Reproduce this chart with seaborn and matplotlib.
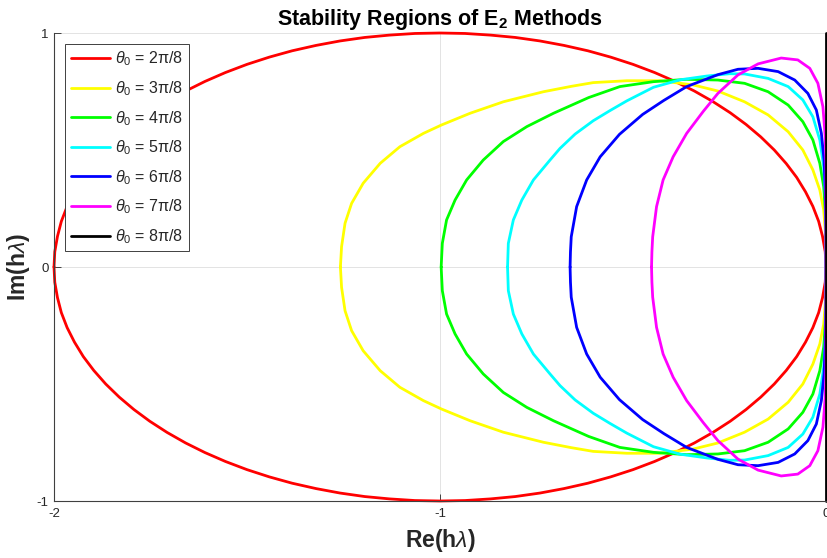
import matplotlib
matplotlib.use("Agg")
import matplotlib.pyplot as plt
import seaborn as sns
import pandas as pd

# ---------------- data ----------------
labels = [r"$\theta_0$ = 2$\mathrm{\pi}$/8", r"$\theta_0$ = 3$\mathrm{\pi}$/8",
          r"$\theta_0$ = 4$\mathrm{\pi}$/8", r"$\theta_0$ = 5$\mathrm{\pi}$/8",
          r"$\theta_0$ = 6$\mathrm{\pi}$/8", r"$\theta_0$ = 7$\mathrm{\pi}$/8",
          r"$\theta_0$ = 8$\mathrm{\pi}$/8"]
colors = ["#ff0000", "#ffff00", "#00ff00", "#00ffff", "#0000ff", "#ff00ff", "#000000"]

# theta0 = 2pi/8
red_x_up = [-2.0, -1.998, -1.991, -1.981, -1.966, -1.947, -1.924, -1.897, -1.866, -1.831,
            -1.793, -1.752, -1.707, -1.659, -1.609, -1.556, -1.5, -1.442, -1.383, -1.321,
            -1.259, -1.195, -1.131, -1.065, -1.0, -0.935, -0.869, -0.805, -0.741, -0.679,
            -0.617, -0.558, -0.5, -0.444, -0.391, -0.341, -0.293, -0.248, -0.207, -0.169,
            -0.134, -0.103, -0.076, -0.053, -0.034, -0.019, -0.009, -0.002, 0.0]
red_y_up = [0.0, 0.065, 0.131, 0.195, 0.259, 0.321, 0.383, 0.442, 0.5, 0.556,
            0.609, 0.659, 0.707, 0.752, 0.793, 0.831, 0.866, 0.897, 0.924, 0.947,
            0.966, 0.981, 0.991, 0.998, 1.0, 0.998, 0.991, 0.981, 0.966, 0.947,
            0.924, 0.897, 0.866, 0.831, 0.793, 0.752, 0.707, 0.659, 0.609, 0.556,
            0.5, 0.442, 0.383, 0.321, 0.259, 0.195, 0.131, 0.065, 0.0]
red_x_lo = [-0.002, -0.009, -0.019, -0.034, -0.053, -0.076, -0.103, -0.134, -0.169, -0.207,
            -0.248, -0.293, -0.341, -0.391, -0.444, -0.5, -0.558, -0.617, -0.679, -0.741,
            -0.805, -0.869, -0.935, -1.0, -1.065, -1.131, -1.195, -1.259, -1.321, -1.383,
            -1.442, -1.5, -1.556, -1.609, -1.659, -1.707, -1.752, -1.793, -1.831, -1.866,
            -1.897, -1.924, -1.947, -1.966, -1.981, -1.991, -1.998, -2.0]
red_y_lo = [-0.065, -0.131, -0.195, -0.259, -0.321, -0.383, -0.442, -0.5, -0.556, -0.609,
            -0.659, -0.707, -0.752, -0.793, -0.831, -0.866, -0.897, -0.924, -0.947, -0.966,
            -0.981, -0.991, -0.998, -1.0, -0.998, -0.991, -0.981, -0.966, -0.947, -0.924,
            -0.897, -0.866, -0.831, -0.793, -0.752, -0.707, -0.659, -0.609, -0.556, -0.5,
            -0.442, -0.383, -0.321, -0.259, -0.195, -0.131, -0.065, 0.0]

# theta0 = 3pi/8
yel_x_up = [-1.258, -1.255, -1.246, -1.229, -1.199, -1.155, -1.104, -1.043, -0.996, -0.922,
            -0.836, -0.732, -0.660, -0.603, -0.516, -0.430, -0.344, -0.280, -0.211, -0.150,
            -0.098, -0.060, -0.034, -0.016, -0.006, -0.002, 0.0, 0.0]
yel_y_up = [0.0, 0.087, 0.187, 0.272, 0.358, 0.443, 0.514, 0.571, 0.607, 0.657,
            0.706, 0.749, 0.772, 0.788, 0.796, 0.796, 0.778, 0.752, 0.706, 0.650,
            0.578, 0.5, 0.415, 0.329, 0.244, 0.158, 0.07, 0.0]
yel_x_lo = [0.0, -0.002, -0.006, -0.016, -0.034, -0.060, -0.098, -0.150, -0.211, -0.280,
            -0.344, -0.430, -0.516, -0.603, -0.660, -0.732, -0.836, -0.922, -0.996, -1.043,
            -1.104, -1.155, -1.199, -1.229, -1.246, -1.255, -1.258]
yel_y_lo = [-0.07, -0.158, -0.244, -0.329, -0.415, -0.5, -0.578, -0.650, -0.706, -0.752,
            -0.778, -0.796, -0.796, -0.788, -0.772, -0.749, -0.706, -0.657, -0.607, -0.571,
            -0.514, -0.443, -0.358, -0.272, -0.187, -0.087, 0.0]

# theta0 = 4pi/8
grn_x_up = [-0.997, -0.994, -0.983, -0.961, -0.931, -0.888, -0.836, -0.775, -0.706, -0.615,
            -0.534, -0.447, -0.361, -0.280, -0.211, -0.150, -0.098, -0.060, -0.034, -0.016,
            -0.006, -0.002, 0.0, 0.0]
grn_y_up = [0.0, 0.101, 0.201, 0.286, 0.372, 0.457, 0.536, 0.6, 0.657, 0.724,
            0.771, 0.792, 0.802, 0.799, 0.785, 0.749, 0.692, 0.621, 0.543, 0.443,
            0.343, 0.244, 0.12, 0.0]
grn_x_lo = [0.0, -0.002, -0.006, -0.016, -0.034, -0.060, -0.098, -0.150, -0.211, -0.280,
            -0.361, -0.447, -0.534, -0.615, -0.706, -0.775, -0.836, -0.888, -0.931, -0.961,
            -0.983, -0.994, -0.997]
grn_y_lo = [-0.12, -0.244, -0.343, -0.443, -0.543, -0.621, -0.692, -0.749, -0.785, -0.799,
            -0.802, -0.792, -0.771, -0.724, -0.657, -0.6, -0.536, -0.457, -0.372, -0.286,
            -0.201, -0.101, 0.0]

# theta0 = 5pi/8
cyn_x_up = [-0.825, -0.823, -0.810, -0.788, -0.758, -0.715, -0.689, -0.650, -0.603, -0.560,
            -0.516, -0.447, -0.378, -0.309, -0.250, -0.211, -0.150, -0.098, -0.060, -0.034,
            -0.016, -0.006, -0.002, 0.0, 0.0]
cyn_y_up = [0.0, 0.101, 0.201, 0.286, 0.372, 0.457, 0.507, 0.568, 0.625, 0.668,
            0.71, 0.768, 0.800, 0.816, 0.826, 0.825, 0.806, 0.771, 0.714, 0.642,
            0.543, 0.429, 0.315, 0.15, 0.0]
cyn_x_lo = [0.0, -0.002, -0.006, -0.016, -0.034, -0.060, -0.098, -0.150, -0.211, -0.250,
            -0.309, -0.378, -0.447, -0.516, -0.560, -0.603, -0.650, -0.689, -0.715, -0.758,
            -0.788, -0.810, -0.823, -0.825]
cyn_y_lo = [-0.15, -0.315, -0.429, -0.543, -0.642, -0.714, -0.771, -0.806, -0.825, -0.826,
            -0.816, -0.800, -0.768, -0.71, -0.668, -0.625, -0.568, -0.507, -0.457, -0.372,
            -0.286, -0.201, -0.101, 0.0]

# theta0 = 6pi/8
blu_x_up = [-0.663, -0.662, -0.660, -0.646, -0.620, -0.585, -0.535, -0.475, -0.420, -0.361,
            -0.280, -0.228, -0.176, -0.124, -0.081, -0.047, -0.025, -0.012, -0.005, -0.002,
            0.0, 0.0]
blu_y_up = [0.0, 0.065, 0.129, 0.258, 0.372, 0.471, 0.567, 0.652, 0.712, 0.771,
            0.822, 0.845, 0.849, 0.835, 0.799, 0.742, 0.671, 0.571, 0.457, 0.329,
            0.15, 0.0]
blu_x_lo = [0.0, -0.002, -0.005, -0.012, -0.025, -0.047, -0.081, -0.124, -0.176, -0.228,
            -0.280, -0.361, -0.420, -0.475, -0.535, -0.585, -0.620, -0.646, -0.660, -0.662,
            -0.663]
blu_y_lo = [-0.15, -0.329, -0.457, -0.571, -0.671, -0.742, -0.799, -0.835, -0.849, -0.845,
            -0.822, -0.771, -0.712, -0.652, -0.567, -0.471, -0.372, -0.258, -0.129, -0.065,
            0.0]

# theta0 = 7pi/8
mag_x_up = [-0.452, -0.451, -0.449, -0.439, -0.422, -0.396, -0.361, -0.318, -0.280, -0.228,
            -0.176, -0.116, -0.073, -0.042, -0.021, -0.008, -0.002, 0.0, 0.0, 0.0]
mag_y_up = [0.0, 0.065, 0.129, 0.258, 0.372, 0.471, 0.571, 0.665, 0.742, 0.821,
            0.868, 0.893, 0.885, 0.849, 0.785, 0.685, 0.557, 0.429, 0.2, 0.0]
mag_x_lo = [0.0, 0.0, -0.002, -0.008, -0.021, -0.042, -0.073, -0.116, -0.176, -0.228,
            -0.280, -0.318, -0.361, -0.396, -0.422, -0.439, -0.449, -0.451, -0.452]
mag_y_lo = [-0.2, -0.429, -0.557, -0.685, -0.785, -0.849, -0.885, -0.893, -0.868, -0.821,
            -0.742, -0.665, -0.571, -0.471, -0.372, -0.258, -0.129, -0.065, 0.0]

# theta0 = 8pi/8 (imaginary axis)
blk_x = [0.0, 0.0]
blk_y = [-1.0, 1.0]

curves_x = [red_x_up + red_x_lo, yel_x_up + yel_x_lo, grn_x_up + grn_x_lo,
            cyn_x_up + cyn_x_lo, blu_x_up + blu_x_lo, mag_x_up + mag_x_lo, blk_x]
curves_y = [red_y_up + red_y_lo, yel_y_up + yel_y_lo, grn_y_up + grn_y_lo,
            cyn_y_up + cyn_y_lo, blu_y_up + blu_y_lo, mag_y_up + mag_y_lo, blk_y]

x_ticks = [-2, -1, 0]
y_ticks = [-1, 0, 1]
x_ticklabels = ["-2", "-1", "0"]
y_ticklabels = ["-1", "0", "1"]

# ---------------- style ----------------
sns.set_theme(style="white")
plt.rcParams["font.family"] = ["Liberation Sans", "DejaVu Sans"]
plt.rcParams["mathtext.fontset"] = "custom"
plt.rcParams["mathtext.rm"] = "Liberation Sans"
plt.rcParams["mathtext.it"] = "Liberation Sans:italic"
plt.rcParams["mathtext.bf"] = "Liberation Sans:bold"
plt.rcParams["axes.unicode_minus"] = False

dark = "#262626"
fig = plt.figure(figsize=(8.28, 5.58), dpi=100)
ax = fig.add_axes([54 / 828, 1 - 501 / 558, 772 / 828, 468 / 558])

for xs, ys, c, lab in zip(curves_x, curves_y, colors, labels):
    df = pd.DataFrame({"x": xs, "y": ys})
    sns.lineplot(data=df, x="x", y="y", sort=False, estimator=None, color=c,
                 label=lab, lw=2.0, ax=ax, clip_on=False,
                 solid_joinstyle="round", solid_capstyle="round")

ax.set_xlim(-2, 0)
ax.set_ylim(-1, 1)
ax.set_xticks(x_ticks)
ax.set_xticklabels(x_ticklabels)
ax.set_yticks(y_ticks)
ax.set_yticklabels(y_ticklabels)

ax.grid(True, color="#e3e3e3", lw=0.7)
ax.set_axisbelow(True)
for s in ["top", "right"]:
    ax.spines[s].set_visible(False)
for s in ["left", "bottom"]:
    ax.spines[s].set_color("#404040")
    ax.spines[s].set_linewidth(0.8)

ax.tick_params(axis="both", direction="in", length=5, width=0.7, color="#404040",
               labelsize=9.5, labelcolor=dark, bottom=True, left=True, top=False, right=False)
ax.tick_params(axis="x", pad=5)
ax.tick_params(axis="y", pad=4)

ax.set_xlabel(r"Re(h$\lambda$)", fontsize=16.5, fontweight="bold", color=dark, labelpad=5)
ax.set_ylabel(r"Im(h$\lambda$)", fontsize=16.5, fontweight="bold", color=dark, labelpad=3)
ax.set_title(r"Stability Regions of E$_{\mathbf{2}}$ Methods", fontsize=15.5,
             fontweight="bold", color="black", pad=6)

leg = ax.legend(loc="upper left", fontsize=11.5, frameon=True, fancybox=False,
                framealpha=1, edgecolor="#404040", borderaxespad=0.7,
                handlelength=2.45, handletextpad=0.3, labelspacing=0.68,
                borderpad=0.35)
leg.get_frame().set_linewidth(0.7)
for t in leg.get_texts():
    t.set_color(dark)

fig.savefig("out.png", dpi=100)
